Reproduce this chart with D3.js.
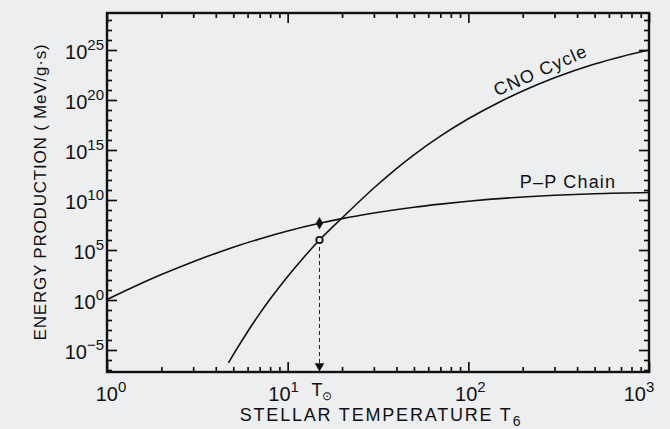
<!doctype html>
<html>
<head>
  <meta charset="utf-8">
  <title>Energy production</title>
  <style>
    body { margin: 0; background: #eceef0; }
    svg { display: block; font-family: "Liberation Sans", Arial, sans-serif; }
  </style>
</head>
<body>
  <svg id="chart" width="670" height="429"></svg>

  <script src="https://d3js.org/d3.v7.min.js"></script>
  <script>
    // temperature in units of 10^6 K, energy as log10 (MeV/g.s)
    var ppTemp = [1, 1.4, 2, 3, 4.2, 5, 7, 10, 15, 20, 30, 50, 70, 100, 200, 300, 500, 1000];
    var ppLogE = [0.05, 1.3, 2.54, 3.83, 4.81, 5.28, 6.11, 6.9, 7.67, 8.14, 8.7, 9.28, 9.59, 9.88, 10.3, 10.47, 10.63, 10.75];

    var cnoTemp = [4.7, 5, 6, 7, 8, 10, 12, 15, 20, 30, 40, 50, 70, 100, 150, 200, 300, 500, 700, 1000];
    var cnoLogE = [-6.29, -5.47, -3.17, -1.36, 0.1, 2.36, 4.06, 6.0, 8.2, 11.2, 13.14, 14.52, 16.39, 18.12, 19.83, 20.9, 22.22, 23.6, 24.33, 25.0];

    var xMajor = [0, 1, 2, 3];          // exponents of 10
    var yMajor = [-5, 0, 5, 10, 15, 20, 25];
    var tSun = 15;

    var pLeft = 107, pRight = 649, pTop = 13, pBottom = 372;

    var svg = d3.select('#chart');

    var x = d3.scaleLog().domain([1, 1000]).range([pLeft, pRight]);
    var y = d3.scaleLog().domain([Math.pow(10, -7.2), Math.pow(10, 28.7)]).range([pBottom, pTop]);

    // minor / major ticks
    var xMinor = [];
    for (var d = 0; d < 3; d++)
      for (var k = 2; k < 10; k++) xMinor.push(k * Math.pow(10, d));
    var yMinor = [];
    for (var e = -7; e <= 28; e++) if (e % 5 != 0) yMinor.push(Math.pow(10, e));
    var xMaj = xMajor.map(function(p) { return Math.pow(10, p); });
    var yMaj = yMajor.map(function(p) { return Math.pow(10, p); });

    function tickGroup(axis, tr) {
      var g = svg.append('g').attr('transform', tr).call(axis);
      g.select('.domain').remove();
      g.selectAll('text').remove();
      g.selectAll('line').attr('stroke', '#111').attr('stroke-width', 1.7);
      return g;
    }

    tickGroup(d3.axisBottom(x).tickValues(xMinor).tickSize(-5), 'translate(0,' + pBottom + ')');
    tickGroup(d3.axisBottom(x).tickValues(xMaj).tickSize(-10), 'translate(0,' + pBottom + ')');
    tickGroup(d3.axisTop(x).tickValues(xMinor).tickSize(-5), 'translate(0,' + pTop + ')');
    tickGroup(d3.axisTop(x).tickValues(xMaj).tickSize(-10), 'translate(0,' + pTop + ')');
    tickGroup(d3.axisLeft(y).tickValues(yMinor).tickSize(-5), 'translate(' + pLeft + ',0)');
    tickGroup(d3.axisLeft(y).tickValues(yMaj).tickSize(-10), 'translate(' + pLeft + ',0)');
    tickGroup(d3.axisRight(y).tickValues(yMinor).tickSize(-5), 'translate(' + pRight + ',0)');
    tickGroup(d3.axisRight(y).tickValues(yMaj).tickSize(-10), 'translate(' + pRight + ',0)');

    // frame
    svg.append('rect')
      .attr('x', pLeft).attr('y', pTop)
      .attr('width', pRight - pLeft).attr('height', pBottom - pTop)
      .attr('fill', 'none').attr('stroke', '#111').attr('stroke-width', 2.4);

    // tick labels
    function powLabel(sel, p) {
      sel.append('tspan').text('10');
      sel.append('tspan').attr('font-size', 15).attr('dy', -9).text(p);
    }

    yMajor.forEach(function(p) {
      var t = svg.append('text')
        .attr('x', 104).attr('y', y(Math.pow(10, p)) + 9)
        .attr('text-anchor', 'end')
        .attr('font-size', 20).attr('fill', '#111');
      powLabel(t, p < 0 ? '\u2212' + (-p) : p);
    });

    var xShift = [4, -4, 2, -10];
    xMajor.forEach(function(p, i) {
      var t = svg.append('text')
        .attr('x', x(Math.pow(10, p)) + xShift[i]).attr('y', 401)
        .attr('text-anchor', 'middle')
        .attr('font-size', 20).attr('fill', '#111');
      powLabel(t, p);
    });

    var sunLab = svg.append('text')
      .attr('x', x(tSun) - 8).attr('y', 396)
      .attr('font-size', 18).attr('fill', '#111');
    sunLab.append('tspan').text('T');
    sunLab.append('tspan').attr('font-size', 12).attr('dy', 4).text('\u2299');

    // axis titles
    var xt = svg.append('text')
      .attr('x', 381).attr('y', 421)
      .attr('text-anchor', 'middle')
      .attr('font-size', 18).attr('fill', '#111')
      .attr('letter-spacing', 1.8);
    xt.append('tspan').text('STELLAR TEMPERATURE T');
    xt.append('tspan').attr('font-size', 14).attr('dy', 5).text('6');

    svg.append('text')
      .attr('transform', 'translate(46,192) rotate(-90)')
      .attr('text-anchor', 'middle')
      .attr('font-size', 17).attr('fill', '#111')
      .attr('letter-spacing', 0.8)
      .text('ENERGY PRODUCTION ( MeV/g\u00b7s)');

    // curves
    var line = d3.line()
      .x(function(d) { return x(d[0]); })
      .y(function(d) { return y(Math.pow(10, d[1])); })
      .curve(d3.curveMonotoneX);

    var pp = d3.zip(ppTemp, ppLogE);
    var cno = d3.zip(cnoTemp, cnoLogE);

    svg.append('path').datum(pp).attr('d', line)
      .attr('fill', 'none').attr('stroke', '#111').attr('stroke-width', 1.6);
    svg.append('path').datum(cno).attr('d', line)
      .attr('fill', 'none').attr('stroke', '#111').attr('stroke-width', 1.6);

    // sun markers
    var ppSun = ppLogE[ppTemp.indexOf(tSun)];
    var cnoSun = cnoLogE[cnoTemp.indexOf(tSun)];
    var sx = x(tSun);

    svg.append('line')
      .attr('x1', sx).attr('x2', sx)
      .attr('y1', y(Math.pow(10, cnoSun))).attr('y2', pBottom - 8)
      .attr('stroke', '#222').attr('stroke-width', 1).attr('stroke-dasharray', '4,3');
    svg.append('path')
      .attr('d', d3.symbol().type(d3.symbolTriangle).size(40))
      .attr('transform', 'translate(' + sx + ',' + (pBottom - 6) + ') rotate(180)')
      .attr('fill', '#111');

    svg.append('path')
      .attr('d', d3.symbol().type(d3.symbolDiamond).size(45))
      .attr('transform', 'translate(' + sx + ',' + y(Math.pow(10, ppSun)) + ')')
      .attr('fill', '#111');
    svg.append('circle')
      .attr('cx', sx).attr('cy', y(Math.pow(10, cnoSun))).attr('r', 3.2)
      .attr('fill', '#eceef0').attr('stroke', '#111').attr('stroke-width', 1.8);

    // curve labels
    svg.append('text')
      .attr('transform', 'translate(543,76) rotate(-24)')
      .attr('text-anchor', 'middle')
      .attr('font-size', 18).attr('fill', '#111')
      .attr('letter-spacing', 1.2)
      .text('CNO Cycle');

    svg.append('text')
      .attr('x', 568).attr('y', 188)
      .attr('text-anchor', 'middle')
      .attr('font-size', 18).attr('fill', '#111')
      .attr('letter-spacing', 1.2)
      .text('P\u2013P Chain');
  </script>
</body>
</html>
